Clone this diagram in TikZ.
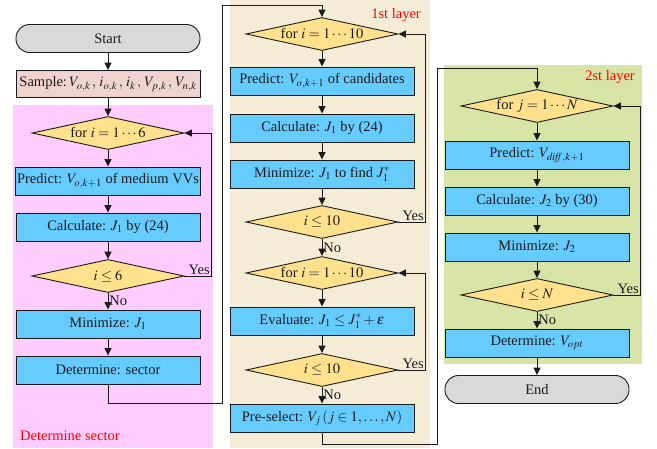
\documentclass[tikz,border=0pt]{standalone}
\usepackage{mathptmx}
\usepackage{fontspec}
\setmainfont{Liberation Serif}
\usetikzlibrary{arrows.meta, shapes.geometric, calc}
\definecolor{fcInk}{HTML}{1A1A1A}
\definecolor{fcBlue}{HTML}{66CCFF}
\definecolor{fcYellow}{HTML}{FFE08C}
\definecolor{fcGrey}{HTML}{D9D9D9}
\definecolor{fcRose}{HTML}{EFD3CF}
\definecolor{fcPink}{HTML}{FFCCFF}
\definecolor{fcSand}{HTML}{F5ECD7}
\definecolor{fcLeaf}{HTML}{D7E4A6}
\definecolor{fcRed}{HTML}{FF0000}
\newcommand{\fcfont}{\fontsize{14.5}{16}\selectfont}
\tikzset{
  proc/.style={
    draw=fcInk, line width=0.9pt, fill=fcBlue,
    minimum width=184pt, minimum height=28pt, inner sep=2pt,
    font=\fcfont, text=fcInk
  },
  term/.style={proc, fill=fcGrey, rounded corners=13.5pt},
  samp/.style={proc, fill=fcRose},
  cond/.style={
    diamond, aspect=4.75, draw=fcInk, line width=0.9pt, fill=fcYellow,
    minimum width=152pt, minimum height=33pt, inner sep=0pt,
    font=\fcfont, text=fcInk
  },
  flow/.style={-{Triangle[length=7.5pt, width=7pt]}, line width=0.9pt, draw=fcInk},
  lbl/.style={font=\fcfont, text=fcInk, inner sep=1pt},
  tag/.style={font=\fcfont, text=fcRed, inner sep=0pt},
}

\begin{document}
\begin{tikzpicture}[x=1pt, y=-1pt]
  \useasboundingbox (0,0) rectangle (657,448);
  % layer backgrounds
  \fill[fcPink] (13,105) rectangle (213,448);
  \fill[fcSand] (230,0) rectangle (430,448);
  \fill[fcLeaf] (444,65) rectangle (642,364);
  \node[tag, anchor=south west] (tsec) at (20,441) {Determine sector};
  \node[tag, anchor=north east] (tone) at (421,8) {1st layer};
  \node[tag, anchor=north east] (ttwo) at (635,70) {2st layer};

  % determine sector
  \node[term] (st) at (108,38.5) {Start};
  \node[samp, minimum height=27pt] (smp) at (108,84)
    {Sample:\,$V_{o,k}\,,\,i_{o,k}\,,\,i_k\,,\,V_{p,k}\,,\,V_{n,k}$};
  \node[cond] (fa) at (108,133) {for $i=1\cdots6$};
  \node[proc] (pa) at (108,181) {Predict: $V_{o,k+1}$ of medium VVs};
  \node[proc] (ca) at (108,227) {Calculate: $J_1$ by (24)};
  \node[cond] (da) at (108,276) {$i\leq6$};
  \node[proc] (ma) at (108,324) {Minimize: $J_1$};
  \node[proc] (sa) at (108,370) {Determine: sector};

  % 1st layer
  \node[cond] (fb) at (322,34) {for $i=1\cdots10$};
  \node[proc] (pb) at (322,81) {Predict: $V_{o,k+1}$ of candidates};
  \node[proc] (cb) at (322,128) {Calculate: $J_1$ by (24)};
  \node[proc] (mb) at (322,174) {Minimize: $J_1$ to find $J_1^*$};
  \node[cond] (db) at (322,222) {$i\leq10$};
  \node[cond] (eb) at (322,273) {for $i=1\cdots10$};
  \node[proc] (vb) at (322,321) {Evaluate: $J_1\leq J_1^*+\varepsilon$};
  \node[cond] (qb) at (322,370) {$i\leq10$};
  \node[proc] (sb) at (322,418) {Pre-select: $V_j\left(j\in1,\ldots,N\right)$};

  % 2st layer
  \node[cond] (fc) at (537,106) {for $j=1\cdots N$};
  \node[proc] (pc) at (537,155) {Predict: $V_{\mathit{diff},k+1}$};
  \node[proc] (cc) at (537,201) {Calculate: $J_2$ by (30)};
  \node[proc] (mc) at (537,247) {Minimize: $J_2$};
  \node[cond] (dc) at (537,295) {$i\leq N$};
  \node[proc] (oc) at (537,343) {Determine: $V_{opt}$};
  \node[term] (en) at (537,389.5) {End};

  % loop columns
  \coordinate (ja) at (211,0);
  \coordinate (jb) at (425,0);
  \coordinate (jc) at (640,0);
  \coordinate (ka) at (222,403);
  \coordinate (kb) at (437,444);

  \draw[flow] (st) -- (smp);
  \draw[flow] (smp) -- (fa);
  \draw[flow] (fa) -- (pa);
  \draw[flow] (pa) -- (ca);
  \draw[flow] (ca) -- (da);
  \draw[flow] (da) -- (ma) node[lbl, midway, right] {No};
  \draw[flow] (ma) -- (sa);
  \draw[flow] (da.east) -- (da.east -| ja) |- (fa.east);
  \node[lbl, anchor=south east] at (da.east -| ja) {Yes};
  \draw[flow] (sa.south) |- (ka) |- ($(fb.north)+(0,-12)$) -- (fb.north);

  \draw[flow] (fb) -- (pb);
  \draw[flow] (pb) -- (cb);
  \draw[flow] (cb) -- (mb);
  \draw[flow] (mb) -- (db);
  \draw[flow] (db) -- (eb) node[lbl, midway, right] {No};
  \draw[flow] (db.east) -- (db.east -| jb) |- (fb.east);
  \node[lbl, anchor=south east] at (db.east -| jb) {Yes};
  \draw[flow] (eb) -- (vb);
  \draw[flow] (vb) -- (qb);
  \draw[flow] (qb) -- (sb) node[lbl, midway, right] {No};
  \draw[flow] (qb.east) -- (qb.east -| jb) |- (eb.east);
  \node[lbl, anchor=south east] at (qb.east -| jb) {Yes};
  \draw[flow] (sb.south) |- (kb) |- ($(fc.north)+(0,-21)$) -- (fc.north);

  \draw[flow] (fc) -- (pc);
  \draw[flow] (pc) -- (cc);
  \draw[flow] (cc) -- (mc);
  \draw[flow] (mc) -- (dc);
  \draw[flow] (dc) -- (oc) node[lbl, midway, right] {No};
  \draw[flow] (dc.east) -- (dc.east -| jc) |- (fc.east);
  \node[lbl, anchor=south east] at (dc.east -| jc) {Yes};
  \draw[flow] (oc) -- (en);
\end{tikzpicture}
\end{document}
